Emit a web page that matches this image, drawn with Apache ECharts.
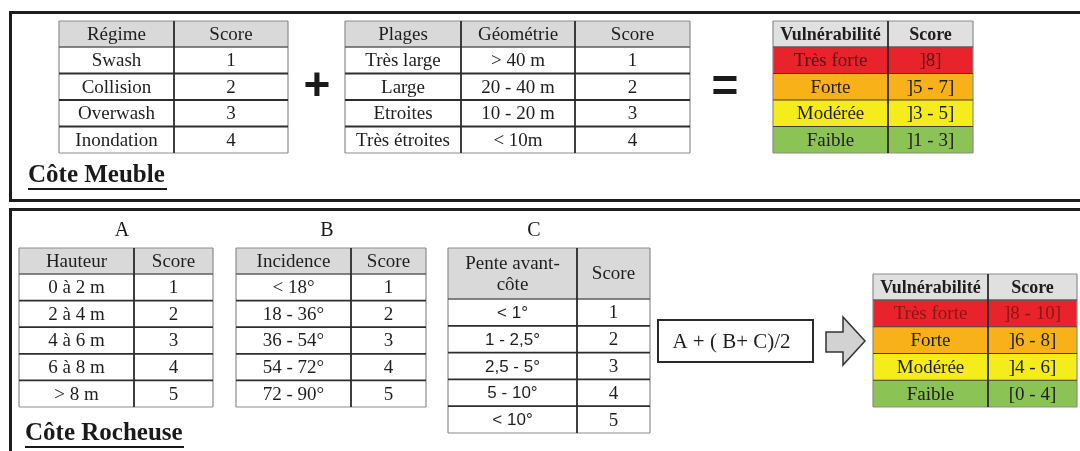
<!DOCTYPE html>
<html><head><meta charset="utf-8">
<script src="https://cdn.jsdelivr.net/npm/echarts@6/dist/echarts.min.js"></script>
<style>html,body{margin:0;padding:0;background:#fff}#chart{width:1080px;height:451px}</style>
</head><body><div id="chart"></div>
<script>
// ---------------- DATA ----------------
const sectionTitles = ['Côte Meuble', 'Côte Rocheuse'];
const groupLabels = ['A', 'B', 'C'];
const operators = ['+', '='];
const formulaText = ['A + ( B+ C)/2'];

const regimeHeader = ['Régime', 'Score'];
const regimeNames = ['Swash', 'Collision', 'Overwash', 'Inondation'];
const regimeScores = ['1', '2', '3', '4'];

const plagesHeader = ['Plages', 'Géométrie', 'Score'];
const plagesNames = ['Très large', 'Large', 'Etroites', 'Très étroites'];
const plagesGeometry = ['> 40 m', '20 - 40 m', '10 - 20 m', '< 10m'];
const plagesScores = ['1', '2', '3', '4'];

const vulnHeader = ['Vulnérabilité', 'Score'];
const vulnLevels = ['Très forte', 'Forte', 'Modérée', 'Faible'];
const meubleVulnScores = [']8]', ']5 - 7]', ']3 - 5]', ']1 - 3]'];

const hauteurHeader = ['Hauteur', 'Score'];
const hauteurClasses = ['0 à 2 m', '2 à 4 m', '4 à 6 m', '6 à 8 m', '> 8 m'];
const hauteurScores = ['1', '2', '3', '4', '5'];

const incidenceHeader = ['Incidence', 'Score'];
const incidenceClasses = ['< 18°', '18 - 36°', '36 - 54°', '54 - 72°', '72 - 90°'];
const incidenceScores = ['1', '2', '3', '4', '5'];

const penteHeader = ['Pente avant-\ncôte', 'Score'];
const penteClasses = ['< 1°', '1 - 2,5°', '2,5 - 5°', '5 - 10°', '< 10°'];
const penteScores = ['1', '2', '3', '4', '5'];

const rocheuseVulnScores = [']8 - 10]', ']6 - 8]', ']4 - 6]', '[0 - 4]'];

// ---------------- LAYOUT & STYLE ----------------
const SERIF = '"Liberation Serif", "Times New Roman", serif';
const VULN_FILLS = ['#e8232b', '#f9b11a', '#f5ec1c', '#8bc455'];
const LAYOUT = {
  regime:       { xs: [59, 174, 288],        head: [21, 47],   body: [47, 153] },
  plages:       { xs: [345, 461, 575, 690],  head: [21, 47],   body: [47, 153] },
  vulnMeuble:   { xs: [773, 888, 973],       head: [21, 47],   body: [47, 153] },
  hauteur:      { xs: [19, 134, 213],        head: [248, 274], body: [274, 407] },
  incidence:    { xs: [236, 351, 426],       head: [248, 274], body: [274, 407] },
  pente:        { xs: [448, 577, 650],       head: [248, 299], body: [299, 433] },
  vulnRocheuse: { xs: [873, 988, 1077],      head: [274, 300], body: [300, 407] },
  formula:      { xs: [658, 813],            body: [320, 362] }
};

const TABLES = [
  { key: 'regime', header: regimeHeader, columns: [regimeNames, regimeScores], vuln: false },
  { key: 'plages', header: plagesHeader, columns: [plagesNames, plagesGeometry, plagesScores], vuln: false },
  { key: 'vulnMeuble', header: vulnHeader, columns: [vulnLevels, meubleVulnScores], vuln: true, redText: '#5e1010' },
  { key: 'hauteur', header: hauteurHeader, columns: [hauteurClasses, hauteurScores], vuln: false },
  { key: 'incidence', header: incidenceHeader, columns: [incidenceClasses, incidenceScores], vuln: false },
  { key: 'pente', header: penteHeader, columns: [penteClasses, penteScores], vuln: false, sansFirst: true },
  { key: 'vulnRocheuse', header: vulnHeader, columns: [vulnLevels, rocheuseVulnScores], vuln: true, redText: '#8c1616' }
];

const OUTER = { c: '#8c8c8c', w: 1.2, z: 5 };
const HEADLINE = { c: '#5c5c5c', w: 1.4, z: 7 };
const ROWLINE = { c: '#2e2e2e', w: 1.8, z: 8 };
const VROWLINE = { c: '#3c3c3c', w: 1.2, z: 8 };
const COLLINE = { c: '#2a2a2a', w: 1.8, z: 9 };

const grids = [], xAxes = [], yAxes = [], series = [];

function addGrid(x0, x1, y0, y1, xCats, yCats) {
  const gi = grids.length;
  grids.push({ left: x0, top: y0, width: x1 - x0, height: y1 - y0, show: false });
  xAxes.push({ type: 'category', gridIndex: gi, data: xCats, show: false });
  yAxes.push({ type: 'category', gridIndex: gi, data: yCats, inverse: true, show: false });
  return gi;
}

function cellRenderer(t, j, isHeader, texts) {
  const nCols = t.columns.length;
  const n = texts.length;
  return function (params, api) {
    const i = params.dataIndex;
    const c = api.coord([api.value(0), api.value(1)]);
    const s = api.size([1, 1]);
    const x0 = c[0] - s[0] / 2, y0 = c[1] - s[1] / 2, x1 = x0 + s[0], y1 = y0 + s[1];
    let fill = '#ffffff';
    if (isHeader) fill = t.vuln ? '#e0e0e0' : '#d9d9d9';
    else if (t.vuln) fill = VULN_FILLS[i];
    const ch = [];
    ch.push({ type: 'rect', z2: 0, shape: { x: x0, y: y0, width: s[0], height: s[1] }, style: { fill: fill } });
    const line = (ax, ay, bx, by, st) => ch.push({ type: 'line', z2: st.z, shape: { x1: ax, y1: ay, x2: bx, y2: by }, style: { stroke: st.c, lineWidth: st.w } });
    if (isHeader) line(x0, y0, x1, y0, OUTER);
    else if (i === 0) line(x0, y0, x1, y0, HEADLINE);
    else line(x0, y0, x1, y0, t.vuln ? VROWLINE : ROWLINE);
    if (!isHeader && i === n - 1) line(x0, y1, x1, y1, OUTER);
    if (j === 0) line(x0, y0, x0, y1, OUTER); else line(x0, y0, x0, y1, COLLINE);
    if (j === nCols - 1) line(x1, y0, x1, y1, OUTER);
    let font = '19px ' + SERIF;
    let color = '#1e1e1e';
    if (t.vuln && isHeader) font = 'bold 18px ' + SERIF;
    if (t.vuln && !isHeader && i === 0) color = t.redText;
    if (t.sansFirst && !isHeader && j === 0) font = '17px "Liberation Sans", Arial, sans-serif';
    ch.push({ type: 'text', z2: 20, style: {
      text: texts[i], x: (x0 + x1) / 2, y: (y0 + y1) / 2 + 1,
      align: 'center', verticalAlign: 'middle', textAlign: 'center', textVerticalAlign: 'middle',
      font: font, fill: color, lineHeight: 21 } });
    return { type: 'group', children: ch };
  };
}

TABLES.forEach(t => {
  const L = LAYOUT[t.key];
  t.columns.forEach((col, j) => {
    const hText = [t.header[j]];
    const gh = addGrid(L.xs[j], L.xs[j + 1], L.head[0], L.head[1], [t.header[j]], hText);
    series.push({ type: 'custom', xAxisIndex: gh, yAxisIndex: gh, silent: true,
      renderItem: cellRenderer(t, j, true, hText), data: hText.map(v => [t.header[j], v]) });
    const gb = addGrid(L.xs[j], L.xs[j + 1], L.body[0], L.body[1], [t.header[j]], col);
    series.push({ type: 'custom', xAxisIndex: gb, yAxisIndex: gb, silent: true,
      renderItem: cellRenderer(t, j, false, col), data: col.map(v => [t.header[j], v]) });
  });
});

// formula box
(function () {
  const L = LAYOUT.formula;
  const g = addGrid(L.xs[0], L.xs[1], L.body[0], L.body[1], ['f'], formulaText);
  series.push({ type: 'custom', xAxisIndex: g, yAxisIndex: g, silent: true,
    data: formulaText.map(v => ['f', v]),
    renderItem: function (params, api) {
      const c = api.coord([api.value(0), api.value(1)]);
      const s = api.size([1, 1]);
      return { type: 'group', children: [
        { type: 'rect', shape: { x: c[0] - s[0] / 2, y: c[1] - s[1] / 2, width: s[0], height: s[1] },
          style: { fill: '#fff', stroke: '#2a2a2a', lineWidth: 2 } },
        { type: 'text', z2: 5, style: { text: formulaText[params.dataIndex], x: c[0] - 4, y: c[1] + 1,
          align: 'center', verticalAlign: 'middle', textAlign: 'center', textVerticalAlign: 'middle',
          font: '21px ' + SERIF, fill: '#1e1e1e' } }
      ] };
    } });
})();

// arrow shape from layout
const AR = { x0: 826, xn: 843, x1: 865, ys0: 332, ys1: 352, yh0: 317, yh1: 365 };
const arrowPts = [[AR.x0, AR.ys0], [AR.xn, AR.ys0], [AR.xn, AR.yh0], [AR.x1, (AR.yh0 + AR.yh1) / 2],
  [AR.xn, AR.yh1], [AR.xn, AR.ys1], [AR.x0, AR.ys1]];

function txt(text, x, y, font, align) {
  return { type: 'text', x: x, y: y, silent: true, style: { text: text, font: font, fill: '#1a1a1a',
    align: align || 'center', textAlign: align || 'center', verticalAlign: 'middle', textVerticalAlign: 'middle' } };
}

const graphic = [
  { type: 'rect', silent: true, shape: { x: 10.5, y: 12.5, width: 1095, height: 188 }, style: { fill: 'none', stroke: '#1c1c1c', lineWidth: 3 } },
  { type: 'rect', silent: true, shape: { x: 10.5, y: 209.5, width: 1095, height: 270 }, style: { fill: 'none', stroke: '#1c1c1c', lineWidth: 3 } },
  txt(sectionTitles[0], 28, 176, 'bold 25px ' + SERIF, 'left'),
  { type: 'line', silent: true, shape: { x1: 28, y1: 189, x2: 167, y2: 189 }, style: { stroke: '#1a1a1a', lineWidth: 2 } },
  txt(sectionTitles[1], 25, 434, 'bold 25px ' + SERIF, 'left'),
  { type: 'line', silent: true, shape: { x1: 25, y1: 447, x2: 184, y2: 447 }, style: { stroke: '#1a1a1a', lineWidth: 2 } },
  txt(groupLabels[0], 122, 231, '20px ' + SERIF),
  txt(groupLabels[1], 327, 231, '20px ' + SERIF),
  txt(groupLabels[2], 534, 231, '20px ' + SERIF),
  txt(operators[0], 317, 87, 'bold 46px "Liberation Sans", Arial, sans-serif'),
  txt(operators[1], 725, 88, 'bold 46px "Liberation Sans", Arial, sans-serif'),
  { type: 'polygon', silent: true, shape: { points: arrowPts }, style: { fill: '#d2d2d2', stroke: '#333', lineWidth: 1.5 } }
];

const chart = echarts.init(document.getElementById('chart'), null, { renderer: 'canvas' });
chart.setOption({
  animation: false,
  backgroundColor: '#ffffff',
  grid: grids, xAxis: xAxes, yAxis: yAxes, series: series, graphic: graphic
});
</script></body></html>
